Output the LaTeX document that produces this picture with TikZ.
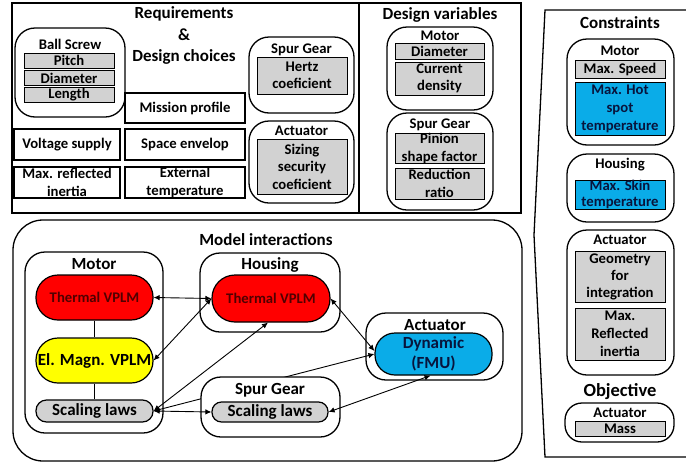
\documentclass[tikz,border=0pt]{standalone}
\usepackage{fontspec}
\setmainfont{Carlito}
\usetikzlibrary{arrows.meta}
\definecolor{bgray}{RGB}{210,210,210}
\definecolor{vred}{RGB}{255,0,0}
\definecolor{dred}{RGB}{80,0,0}
\definecolor{vyel}{RGB}{255,255,0}
\definecolor{vblue}{RGB}{10,172,232}
\definecolor{dblue}{RGB}{8,20,60}
\newcommand\myfs[2]{\fontsize{#1}{#2}\selectfont\bfseries}
\begin{document}
\begin{tikzpicture}[x=1pt,y=-1pt,
  sz/.style 2 args={minimum width=#1pt, minimum height=#2pt},
  grp/.style={draw, line width=1.3pt, rounded corners=20pt, fill=white, inner sep=0pt},
  gbox/.style={draw, line width=0.8pt, fill=bgray, inner sep=0pt, align=center, font=\myfs{14.7}{17.5}},
  wbox/.style={draw, line width=1.2pt, fill=white, inner sep=0pt, align=center, font=\myfs{14.7}{17.5}},
  lbl/.style={inner sep=0pt, font=\myfs{14.7}{17.5}},
  mlbl/.style={inner sep=0pt, font=\myfs{17}{20}},
  ttl/.style={inner sep=0pt, align=center, font=\myfs{17}{21.5}},
  pill/.style={draw, line width=1.2pt, inner sep=0pt, align=center, font=\myfs{17}{20}},
  link/.style={line width=0.9pt, {Latex[length=6pt,width=5.5pt]}-{Latex[length=6pt,width=5.5pt]}},
  frame/.style={line width=1.3pt}
]
\useasboundingbox (0,0) rectangle (686,464);

% ---------- Requirements & design variables frame
\draw[frame] (12,3) rectangle (521,213);
\draw[frame] (359,3) -- (359,213);

\node[ttl] (reqt) at (184,35.5) {Requirements\\\&\\Design choices};

\node[grp, sz={110}{89}] (bsg) at (70,72.5) {};
\node[lbl] (bsl) at (70,44) {Ball Screw};
\node[gbox, sz={90}{15}] (pitch) at (69,60.5) {Pitch};
\node[gbox, sz={90}{15}] (diam) at (69,78) {Diameter};
\node[gbox, sz={90}{15}] (len) at (69,95) {Length};

\node[wbox, sz={120}{30}] (mission) at (185,108) {Mission profile};
\node[wbox, sz={106}{31}] (volt) at (67,144.5) {Voltage supply};
\node[wbox, sz={120}{31}] (space) at (185,144.5) {Space envelop};
\node[wbox, sz={106}{31}] (inert) at (67,182.5) {Max. reflected\\inertia};
\node[wbox, sz={120}{31}] (ext) at (185,182.5) {External\\temperature};

\node[grp, sz={105}{76}] (sgr) at (301.5,75) {};
\node[lbl] (sgrl) at (301.5,50) {Spur Gear};
\node[gbox, sz={90}{37}] (hertz) at (302,75.5) {Hertz\\coeficient};

\node[grp, sz={105}{82}] (acr) at (301.5,162) {};
\node[lbl] (acrl) at (301.5,131) {Actuator};
\node[gbox, sz={90}{55}] (sizing) at (302,166.5) {Sizing\\security\\coeficient};

\node[ttl] (dvt) at (440,15) {Design variables};
\node[grp, sz={106}{83}] (dvm) at (440,68.5) {};
\node[lbl] (dvml) at (440,36) {Motor};
\node[gbox, sz={89}{16}] (dvd) at (439.5,51) {Diameter};
\node[gbox, sz={89}{33}] (dvc) at (439.5,78.5) {Current\\density};
\node[grp, sz={106}{97}] (dvs) at (440,161.5) {};
\node[lbl] (dvsl) at (440,125) {Spur Gear};
\node[gbox, sz={89}{29}] (dvp) at (439.5,148.5) {Pinion\\shape factor};
\node[gbox, sz={89}{31}] (dvr) at (439.5,183.5) {Reduction\\ratio};

% ---------- Constraints
\draw[frame] (687,10) -- (545,10) -- (534,235) -- (545,457) -- (687,457);
\node[ttl] (ct) at (620,23) {Constraints};
\node[grp, sz={107}{106}] (cm) at (620.5,92) {};
\node[lbl] (cml) at (620,51) {Motor};
\node[gbox, sz={90}{18}] (cms) at (620,69) {Max. Speed};
\node[gbox, fill=vblue, text=dblue, sz={90}{53}, font=\myfs{14.7}{18}] (cmh) at (620,108.5) {Max. Hot\\spot\\temperature};
\node[grp, sz={107}{68}] (ch) at (620.5,188) {};
\node[lbl] (chl) at (620,165) {Housing};
\node[gbox, fill=vblue, text=dblue, sz={90}{29}, font=\myfs{14.7}{16.5}] (chs) at (620,194.5) {Max. Skin\\temperature};
\node[grp, sz={107}{145}] (ca) at (620.5,302.5) {};
\node[lbl] (cal) at (620,240) {Actuator};
\node[gbox, sz={90}{51}, font=\myfs{14.7}{17}] (cag) at (620,276.5) {Geometry\\for\\integration};
\node[gbox, sz={90}{52}, font=\myfs{14.7}{18}] (car) at (620,334) {Max.\\Reflected\\inertia};
\node[ttl, font=\myfs{18.5}{22}] (ot) at (620,392) {Objective};
\node[grp, rounded corners=17pt, sz={109}{39}] (oa) at (619.5,422.5) {};
\node[lbl] (oal) at (620,413) {Actuator};
\node[gbox, sz={90}{15}] (mass) at (620,428.5) {Mass};

% ---------- Model interactions
\node[draw, line width=1.3pt, rounded corners=30pt, sz={509}{241}, inner sep=0pt] (mi) at (267.5,340.5) {};
\node[ttl] (mit) at (266,240) {Model interactions};

\node[grp, sz={138}{181}] (mmg) at (94,342.5) {};
\node[mlbl] (mml) at (94,264) {Motor};
\node[pill, fill=vred, text=dred, rounded corners=22pt, font=\myfs{14.7}{17}, sz={117}{45}] (tm) at (94.5,297.5) {Thermal VPLM};
\node[pill, fill=vyel, rounded corners=22pt, sz={117}{45}] (em) at (94.5,360.5) {El. Magn. VPLM};
\node[pill, fill=bgray, rounded corners=10.5pt, sz={117}{22}] (ms) at (94.5,411) {Scaling laws};
\draw[line width=0.8pt] (tm) -- (em);
\draw[line width=0.8pt] (em) -- (ms);

\node[grp, sz={140}{79}] (hg) at (270,292.5) {};
\node[mlbl] (hgl) at (270,265) {Housing};
\node[pill, fill=vred, text=dred, rounded corners=23pt, font=\myfs{14.7}{17}, sz={118}{47}] (th) at (271,298.5) {Thermal VPLM};

\node[grp, sz={137}{67}] (ag) at (434.5,346.5) {};
\node[mlbl] (agl) at (435,325) {Actuator};
\node[pill, fill=vblue, text=dblue, rounded corners=20pt, sz={117}{42}] (dyn) at (433.5,354) {Dynamic\\(FMU)};

\draw[link] (ms.east) -- (dyn.west);

\node[grp, sz={139}{60}] (sg) at (270.5,407) {};
\node[mlbl] (sgl) at (270,390) {Spur Gear};
\node[pill, fill=bgray, rounded corners=9.5pt, sz={116}{20}] (ss) at (270,412) {Scaling laws};

\draw[link] (tm.east) -- (th.west);
\draw[link] (th.west) -- (em.east);
\draw[link] (ms.east) -- ([xshift=-3pt]th.south);
\draw[link] (ms.east) -- (ss.west);
\draw[link] (th.east) -- ([yshift=3pt]dyn.west);
\draw[link] ([xshift=-3pt]dyn.south) -- (ss.east);
\end{tikzpicture}
\end{document}
